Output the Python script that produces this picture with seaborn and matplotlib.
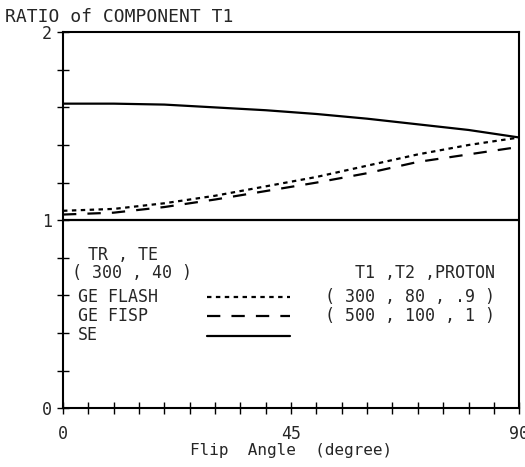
import numpy as np
import pandas as pd
import matplotlib
matplotlib.use('Agg')
import matplotlib.pyplot as plt
from matplotlib.ticker import MultipleLocator, FixedLocator
import seaborn as sns

# values
angle = [0, 10, 20, 30, 40, 50, 60, 70, 80, 90]
ge_flash = [1.05, 1.06, 1.09, 1.13, 1.18, 1.23, 1.29, 1.35, 1.40, 1.44]
ge_fisp = [1.03, 1.04, 1.07, 1.11, 1.155, 1.20, 1.25, 1.31, 1.35, 1.39]
se = [1.62, 1.62, 1.615, 1.60, 1.585, 1.565, 1.54, 1.51, 1.48, 1.44]
series = ['GE FLASH', 'GE FISP', 'SE']

df = pd.DataFrame({
    'angle': angle * 3,
    'ratio': ge_flash + ge_fisp + se,
    'seq': [s for s in series for _ in angle],
})

sns.set_style('white')
plt.rcParams['font.family'] = ['DejaVu Sans Mono', 'DejaVu Sans']

fig = plt.figure(figsize=(5.25, 4.67), dpi=100)
ax = fig.add_axes([0.12, 0.126, 0.869, 0.805])

sns.lineplot(data=df, x='angle', y='ratio', hue='seq', style='seq',
             palette={s: 'black' for s in series},
             dashes={'GE FLASH': (2, 2), 'GE FISP': (6, 5), 'SE': ''},
             linewidth=1.6, legend=False, ax=ax)
ax.axhline(1, color='black', lw=1.6)

ax.set_xlim(0, 90)
ax.set_ylim(0, 2)
for sp in ax.spines.values():
    sp.set_color('black')
    sp.set_linewidth(1.5)

ax.xaxis.set_major_locator(FixedLocator([0, 45, 90]))
ax.xaxis.set_minor_locator(MultipleLocator(5))
ax.yaxis.set_major_locator(FixedLocator([0, 1, 2]))
ax.yaxis.set_minor_locator(MultipleLocator(0.2))
ax.tick_params(which='both', direction='inout', length=8, width=1, color='black',
               left=True, bottom=True, right=False, top=False)
ax.tick_params(axis='x', which='major', pad=8, labelsize=12)
ax.tick_params(axis='y', which='major', pad=4, labelsize=12)

ax.set_xlabel('Flip  Angle  (degree)', fontsize=11.5, labelpad=0)
ax.set_ylabel('')
fig.text(0.01, 0.963, 'RATIO of COMPONENT T1', fontsize=13, va='center')

fs = 12
ax.text(0.055, 0.407, 'TR , TE', fontsize=fs, va='center', transform=ax.transAxes)
ax.text(0.02, 0.359, '( 300 , 40 )', fontsize=fs, va='center', transform=ax.transAxes)
for lab, yy in zip(series, [0.295, 0.245, 0.194]):
    ax.text(0.033, yy, lab, fontsize=fs, va='center', transform=ax.transAxes)
ax.text(0.947, 0.359, 'T1 ,T2 ,PROTON', fontsize=fs, va='center', ha='right', transform=ax.transAxes)
ax.text(0.947, 0.295, '( 300 , 80 , .9 )', fontsize=fs, va='center', ha='right', transform=ax.transAxes)
ax.text(0.947, 0.245, '( 500 , 100 , 1 )', fontsize=fs, va='center', ha='right', transform=ax.transAxes)

leg = ax.legend(handles=ax.lines[:3], labels=['', '', ''], loc='upper left',
                bbox_to_anchor=(0.316, 0.317), frameon=False, fontsize=fs,
                handlelength=4.98, handletextpad=0, borderpad=0, borderaxespad=0,
                labelspacing=0.08)

fig.savefig('out.png', dpi=100)
